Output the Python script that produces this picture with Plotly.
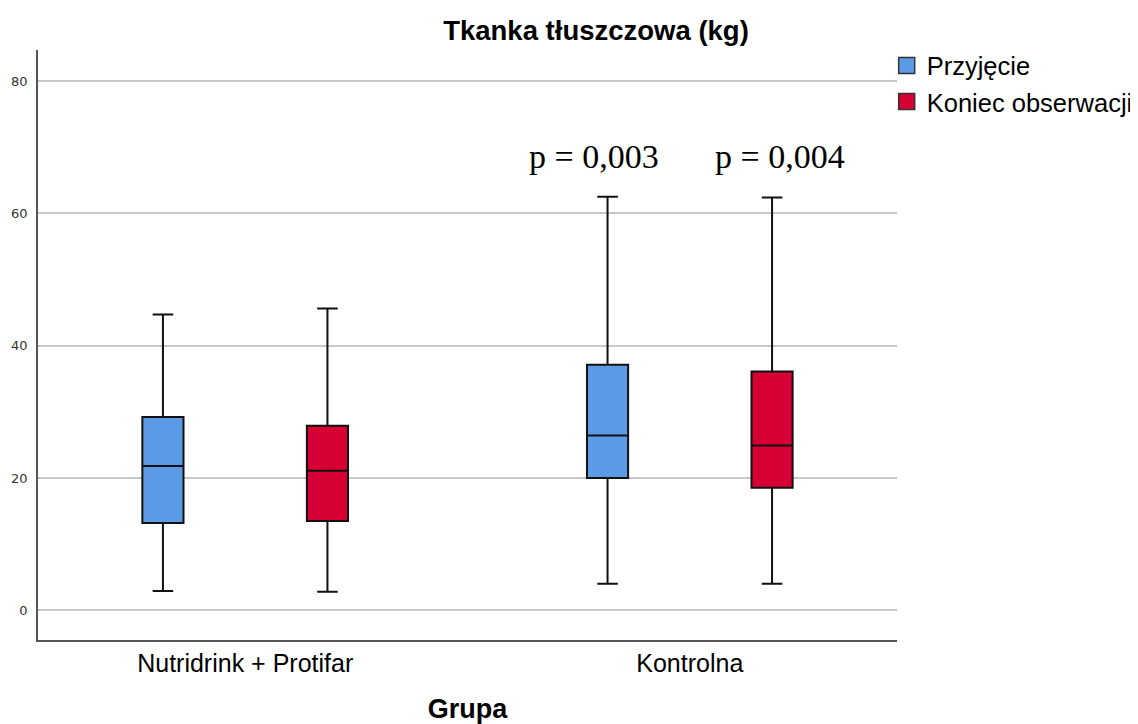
import plotly.graph_objects as go

categories = ["Nutridrink + Protifar", "Kontrolna"]

# Przyjęcie (admission)
adm_low = [2.9, 4.0]
adm_q1 = [13.2, 20.0]
adm_med = [21.8, 26.4]
adm_q3 = [29.2, 37.1]
adm_high = [44.7, 62.5]

# Koniec obserwacji (end of observation)
end_low = [2.8, 4.0]
end_q1 = [13.5, 18.5]
end_med = [21.1, 24.9]
end_q3 = [27.9, 36.1]
end_high = [45.6, 62.4]

series_names = ["Przyjęcie", "Koniec obserwacji"]
series_colors = ["#5B9BE6", "#D70035"]
p_labels = ["p = 0,003", "p = 0,004"]

fig = go.Figure()
data = [(adm_low, adm_q1, adm_med, adm_q3, adm_high), (end_low, end_q1, end_med, end_q3, end_high)]
for name, color, (lo, q1, md, q3, hi) in zip(series_names, series_colors, data):
    fig.add_trace(go.Box(
        name=name, x=categories, q1=q1, median=md, q3=q3,
        lowerfence=lo, upperfence=hi,
        fillcolor=color, line=dict(color="#111111", width=2),
        whiskerwidth=0.5, boxpoints=False, hoverinfo="skip", showlegend=False,
    ))
# legend entries with larger square symbols
for name, color in zip(series_names, series_colors):
    fig.add_trace(go.Scatter(
        x=[None], y=[None], mode="markers", name=name,
        marker=dict(symbol="square", size=22, color=color, line=dict(color="#333333", width=1.5)),
    ))

for lbl, shift in zip(p_labels, [-96, 90]):
    fig.add_annotation(
        x=categories[1], y=68.6, xref="x", yref="y", xshift=shift,
        text=lbl, showarrow=False,
        font=dict(family="Liberation Serif, Times New Roman, serif", size=34, color="black"),
    )

fig.update_layout(
    width=1130, height=716,
    paper_bgcolor="white", plot_bgcolor="white",
    margin=dict(l=30, r=241, t=42, b=84, autoexpand=False),
    boxmode="group", boxgap=0.26, boxgroupgap=0.75,
    title=dict(text="<b>Tkanka tłuszczowa (kg)</b>", x=588/1130, xanchor="center",
               y=1 - 22/716, yanchor="middle",
               font=dict(family="Liberation Sans, Arial, sans-serif", size=27.5, color="black")),
    font=dict(family="Liberation Sans, Arial, sans-serif", color="black"),
    legend=dict(x=0.988, y=1.013, xanchor="left", yanchor="top",
                font=dict(size=25.5, color="black"), tracegroupgap=0,
                bgcolor="rgba(0,0,0,0)", itemsizing="trace"),
    xaxis=dict(
        type="category", range=[-0.466, 1.466], automargin=False,
        showline=True, linecolor="#555555", linewidth=1.5,
        showgrid=False, ticks="", tickfont=dict(size=25, color="black"),
        title=dict(text="<b>Grupa</b>", font=dict(size=27, color="black"), standoff=31),
    ),
    yaxis=dict(
        range=[-4.5, 84.7], tickvals=[0, 20, 40, 60, 80], automargin=False,
        showline=True, linecolor="#555555", linewidth=1.5,
        showgrid=True, gridcolor="#C8C8C8", gridwidth=1.5,
        zeroline=False, ticks="", tickfont=dict(family="DejaVu Sans, Verdana, sans-serif", size=13, color="#333333"),
        ticklabelstandoff=6,
    ),
)

fig.write_html("out.html")
